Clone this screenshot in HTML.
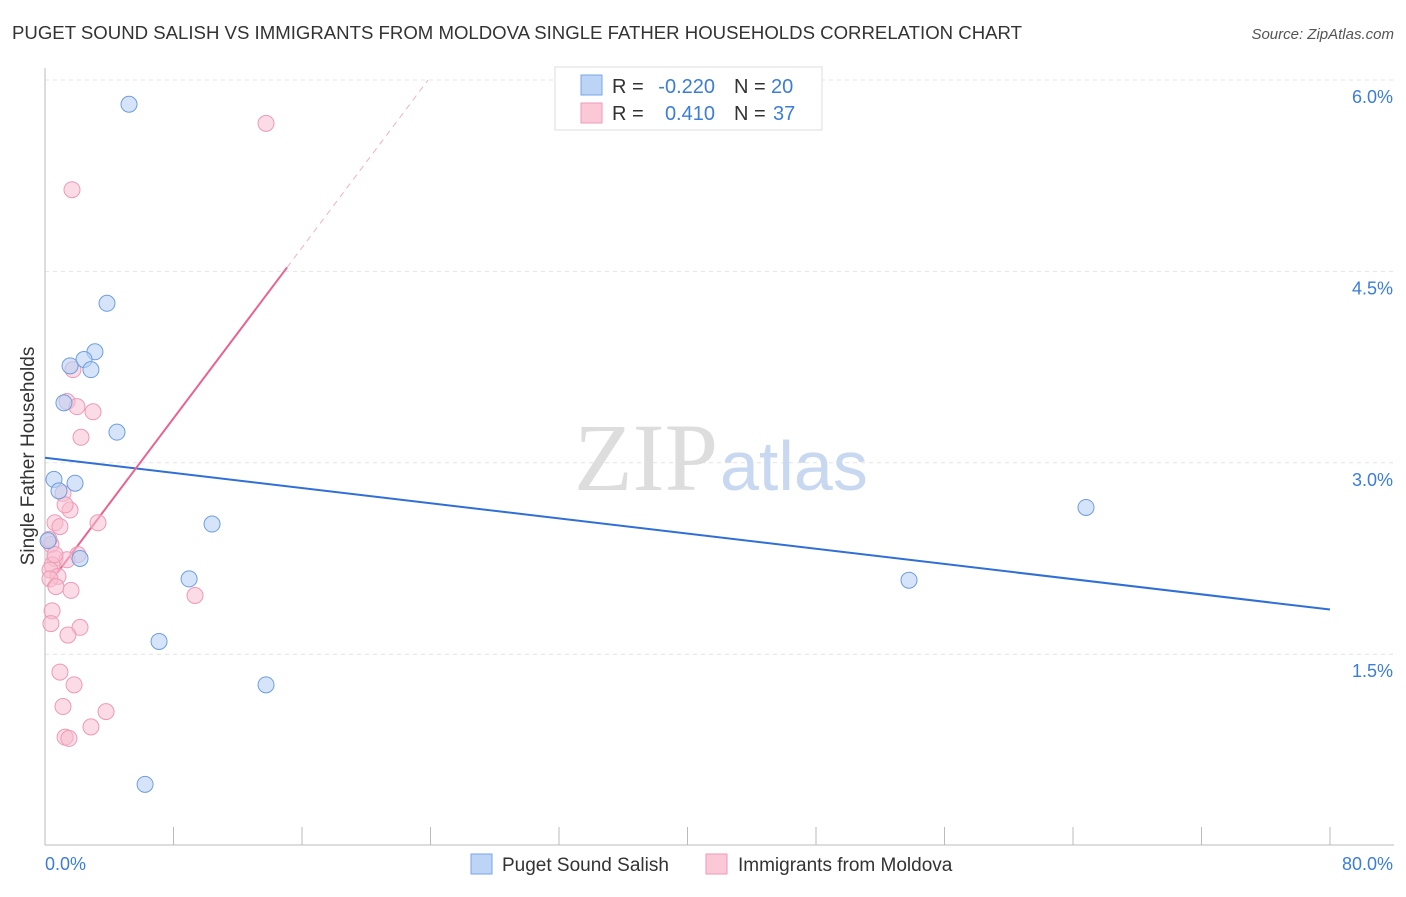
<!DOCTYPE html>
<html><head><meta charset="utf-8"><style>
body{margin:0;background:#fff;font-family:"Liberation Sans",sans-serif;}
</style></head><body>
<svg width="1406" height="892" xmlns="http://www.w3.org/2000/svg" style="font-family:'Liberation Sans',sans-serif">
<text x="12" y="39" font-size="18" fill="#333" textLength="1010" lengthAdjust="spacingAndGlyphs">PUGET SOUND SALISH VS IMMIGRANTS FROM MOLDOVA SINGLE FATHER HOUSEHOLDS CORRELATION CHART</text>
<text x="1394" y="39" font-size="15" fill="#555" text-anchor="end" font-style="italic">Source: ZipAtlas.com</text>
<g id="grid"></g>
<g id="axes"></g>
<text x="718" y="490" font-size="96" fill="#ddd" text-anchor="end" font-family="Liberation Serif">ZIP</text>
<text x="720" y="490" font-size="70" fill="#c8d8f0">atlas</text>
<text transform="translate(34,456) rotate(-90)" font-size="19" fill="#333" text-anchor="middle">Single Father Households</text>
<g id="lines"></g>
<g id="points"></g>
<g>
<rect x="555" y="67" width="267" height="63" fill="#fff" stroke="#ddd"/>
<rect x="581" y="75" width="21" height="20" fill="#bcd4f6" stroke="#7aa6e6"/>
<rect x="581" y="103" width="21" height="20" fill="#fbc8d8" stroke="#ef9ab6"/>
<text x="612" y="93" font-size="20" fill="#333">R =</text>
<text x="715" y="93" font-size="20" fill="#3b7dd8" text-anchor="end">-0.220</text>
<text x="734" y="93" font-size="20" fill="#333">N =</text>
<text x="771" y="93" font-size="20" fill="#3b7dd8">20</text>
<text x="612" y="120" font-size="20" fill="#333">R =</text>
<text x="715" y="120" font-size="20" fill="#3b7dd8" text-anchor="end">0.410</text>
<text x="734" y="120" font-size="20" fill="#333">N =</text>
<text x="773" y="120" font-size="20" fill="#3b7dd8">37</text>
</g>
<g>
<rect x="471" y="854" width="21" height="20" fill="#bcd4f6" stroke="#7aa6e6"/>
<text x="502" y="871" font-size="19" fill="#333">Puget Sound Salish</text>
<rect x="706" y="854" width="21" height="20" fill="#fbc8d8" stroke="#ef9ab6"/>
<text x="738" y="871" font-size="19" fill="#333">Immigrants from Moldova</text>
</g>
</svg>
<script>
const yTicks=[1.5,3.0,4.5,6.0];
const yTickLabels=["1.5%","3.0%","4.5%","6.0%"];
const xTicks=[0,8,16,24,32,40,48,56,64,72,80];
const blueX=[5.23,3.86,3.11,2.43,1.56,2.86,1.18,4.48,0.56,1.87,0.87,10.40,0.19,2.18,8.97,7.10,13.76,6.23,64.81,53.79];
const blueY=[5.81,4.25,3.87,3.81,3.76,3.73,3.47,3.24,2.87,2.84,2.78,2.52,2.39,2.25,2.09,1.60,1.26,0.48,2.65,2.08];
const pinkX=[13.76,1.68,1.74,1.37,1.99,2.99,2.24,1.12,1.56,1.25,3.30,0.62,0.93,0.37,2.05,0.62,1.37,0.44,0.31,0.81,0.31,0.68,1.62,9.34,0.44,0.37,2.18,1.43,0.93,1.81,1.12,3.80,2.86,1.25,1.49,0.25,0.62];
const pinkY=[5.66,5.14,3.73,3.48,3.44,3.40,3.20,2.76,2.63,2.67,2.53,2.53,2.50,2.36,2.28,2.25,2.24,2.20,2.16,2.11,2.09,2.03,2.00,1.96,1.84,1.74,1.71,1.65,1.36,1.26,1.09,1.05,0.93,0.85,0.84,2.40,2.28];
const blueTrend=[3.04,1.85];
const pinkTrend=[2.01,0.1673];
const NS="http://www.w3.org/2000/svg";
const xs=v=>45+v/80*1285;
const ys=v=>80+(6-v)*127.6;
function mk(tag,at,parent){const e=document.createElementNS(NS,tag);for(const k in at)e.setAttribute(k,at[k]);document.getElementById(parent).appendChild(e);return e;}
yTicks.forEach((t,i)=>{
 const g=mk('line',{x1:45,x2:1394,y1:ys(t),y2:ys(t),stroke:'#e4e4e4','stroke-dasharray':'4,4'},'grid');
 
 
 const l=mk('text',{x:1393,y:ys(t)+23,'font-size':18,fill:'#3b7dd8','text-anchor':'end'},'grid');
 l.textContent=yTickLabels[i];
 
 
});
const ax=mk('line',{x1:45,x2:1394,y1:845,y2:845,stroke:'#bbb'},'axes');


const ay=mk('line',{x1:45,x2:45,y1:68,y2:845,stroke:'#bbb'},'axes');


xTicks.forEach(t=>{const e=mk('line',{x1:xs(t),x2:xs(t),y1:827,y2:845,stroke:'#bbb'},'axes');
 
 });
const x0=mk('text',{x:45,y:870,'font-size':18,fill:'#3b7dd8'},'axes');x0.textContent='0.0%';


const x1=mk('text',{x:1393,y:870,'font-size':18,fill:'#3b7dd8','text-anchor':'end'},'axes');x1.textContent='80.0%';


const bl=mk('line',{x1:xs(0),y1:ys(blueTrend[0]),x2:xs(80),y2:ys(blueTrend[1]),stroke:'#2f6fd6','stroke-width':2},'lines');


const pe=15.07, pend=(6-pinkTrend[0])/pinkTrend[1];
const pl=mk('line',{x1:xs(0.12),y1:ys(pinkTrend[0]+pinkTrend[1]*0.12),x2:xs(pe),y2:ys(pinkTrend[0]+pinkTrend[1]*pe),stroke:'#e9638f','stroke-width':2},'lines');


const pd=mk('line',{x1:xs(pe),y1:ys(pinkTrend[0]+pinkTrend[1]*pe),x2:xs(pend),y2:ys(6),stroke:'#f0b0c4','stroke-width':1,'stroke-dasharray':'6,5'},'lines');


pinkX.forEach((x,i)=>{const c=mk('circle',{cx:xs(x),cy:ys(pinkY[i]),r:8,fill:'rgba(248,190,208,0.55)',stroke:'#ee9ab5','stroke-width':1},'points');
 
 });
blueX.forEach((x,i)=>{const c=mk('circle',{cx:xs(x),cy:ys(blueY[i]),r:8,fill:'rgba(185,210,245,0.6)',stroke:'#6e9de0','stroke-width':1},'points');
 
 });
</script>
</body></html>
